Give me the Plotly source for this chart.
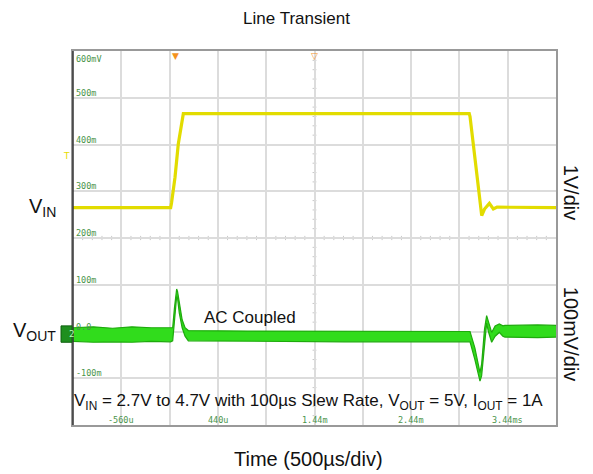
import plotly.graph_objects as go

# ---------------- data (time in µs, voltage in scope display mV) ----------------
t_vin = [-1060, -49, -40, -4, 30, 65, 82, 1000, 2000, 3042, 3050, 3084, 3136, 3160, 3171, 3200, 3250, 3291, 3330, 3940]
vin = [265, 265, 275, 330, 401, 451, 466, 466, 466, 466, 460, 401, 300, 255, 248, 262, 274, 262, 266, 265]

t_vout = [-1060, -850, -650, -450, -250, -50, -28, -10, 5, 13, 22, 40, 70, 100, 134, 750, 1750, 2750,
          3050, 3100, 3153, 3170, 3200, 3222, 3240, 3274, 3310, 3353, 3390, 3412, 3750, 3940]
vout_upper = [8, 10, 7, 10, 8, 9, 8, 50, 88, 91, 86, 60, 25, 8, 2, 1, 1, 1,
              0, -35, -88, -70, 5, 34, 20, -2, 12, 16, 12, 13, 14, 13]
vout_lower = [-21, -23, -22, -23, -21, -22, -20, 25, 65, 75, 72, 40, 8, -10, -20, -21, -22, -22,
              -22, -60, -106, -95, -35, 18, 0, -23, -10, -2, -10, -12, -13, -12]

y_tick_vals = [-100, 0, 100, 200, 300, 400, 500, 600]
y_tick_text = ["-100m", "0.0", "100m", "200m", "300m", "400m", "500m", "600mV"]
x_tick_vals = [-560, 440, 1440, 2440, 3440]
x_tick_text = ["-560u", "440u", "1.44m", "2.44m", "3.44ms"]

x_range = [-1060, 3940]
y_range = [-200, 600]
trigger_t = 0
trigger_level = 376

GRID = "#dcdcdc"
LBL = "#4a944a"
FONT = "Liberation Sans, Arial, sans-serif"

fig = go.Figure()

# VIN trace (yellow)
fig.add_trace(go.Scatter(x=t_vin, y=vin, mode="lines",
                         line=dict(color="#e2dc00", width=3.2), hoverinfo="skip"))
# VOUT band (green)
fig.add_trace(go.Scatter(x=t_vout, y=vout_upper, mode="lines",
                         line=dict(color="#1eaa0c", width=1.2), hoverinfo="skip"))
fig.add_trace(go.Scatter(x=t_vout, y=vout_lower, mode="lines", fill="tonexty",
                         fillcolor="#31dc1c",
                         line=dict(color="#1eaa0c", width=1.2), hoverinfo="skip"))

shapes = []
# minor ticks on centre lines
x_center = (x_range[0] + x_range[1]) / 2
y_center = (y_range[0] + y_range[1]) / 2
xdiv = (x_range[1] - x_range[0]) / 10
ydiv = (y_range[1] - y_range[0]) / 8
for i in range(1, 40):
    yy = y_range[0] + i * ydiv / 5
    shapes.append(dict(type="line", xref="x", yref="y", x0=x_center - xdiv * 0.04, x1=x_center + xdiv * 0.04,
                       y0=yy, y1=yy, line=dict(color="#c8c8c8", width=1), layer="below"))
for i in range(1, 50):
    xx = x_range[0] + i * xdiv / 5
    shapes.append(dict(type="line", xref="x", yref="y", x0=xx, x1=xx,
                       y0=y_center - ydiv * 0.045, y1=y_center + ydiv * 0.045,
                       line=dict(color="#c8c8c8", width=1), layer="below"))
# left frame line (dark)
shapes.append(dict(type="line", xref="paper", yref="paper", x0=0, x1=0, y0=0, y1=1,
                   line=dict(color="#333333", width=1.5)))
# channel 2 marker box
shapes.append(dict(type="rect", xref="paper", yref="y", x0=-0.0248, x1=-0.002, y0=-23, y1=12,
                   fillcolor="#1f8f1f", line=dict(color="#0f600f", width=1)))

annotations = []
for v, s in zip(y_tick_vals, y_tick_text):
    annotations.append(dict(x=0, xref="paper", y=v, yref="y", text=s, showarrow=False,
                            xanchor="left", yanchor="top" if v == y_range[1] else "bottom",
                            xshift=1, yshift=-1 if v == y_range[1] else -2,
                            font=dict(family="DejaVu Sans Mono", size=8.5, color=LBL)))
for v, s in zip(x_tick_vals, x_tick_text):
    annotations.append(dict(x=v, xref="x", y=0, yref="paper", text=s, showarrow=False,
                            xanchor="center", yanchor="bottom", yshift=-2,
                            font=dict(family="DejaVu Sans Mono", size=8.5, color=LBL)))

annotations += [
    dict(x=0, xref="paper", y=265, yref="y", text="V<sub>IN</sub>", showarrow=False,
         xanchor="right", xshift=-15, font=dict(family=FONT, size=20, color="#111")),
    dict(x=0, xref="paper", y=0, yref="y", text="V<sub>OUT</sub>", showarrow=False,
         xanchor="right", xshift=-15, font=dict(family=FONT, size=20, color="#111")),
    dict(x=1, xref="paper", y=297, yref="y", text="1V/div", showarrow=False, textangle=90,
         xanchor="center", xshift=15, font=dict(family=FONT, size=20, color="#111")),
    dict(x=1, xref="paper", y=-5, yref="y", text="100mV/div", showarrow=False, textangle=90,
         xanchor="center", xshift=15, font=dict(family=FONT, size=20, color="#111")),
    dict(x=772, xref="x", y=31, yref="y", text="AC Coupled", showarrow=False,
         font=dict(family=FONT, size=17, color="#111")),
    dict(x=0.4876, xref="paper", y=-150, yref="y",
         text="V<sub>IN</sub> = 2.7V to 4.7V with 100µs Slew Rate, V<sub>OUT</sub> = 5V, I<sub>OUT</sub> = 1A",
         showarrow=False, font=dict(family=FONT, size=17, color="#111")),
    dict(x=0.4886, xref="paper", y=-0.092, yref="paper", text="Time (500µs/div)", showarrow=False,
         yanchor="middle", font=dict(family=FONT, size=20, color="#111")),
    dict(x=trigger_t, xref="x", y=1, yref="paper", text="▼", showarrow=False, yanchor="top",
         yshift=2, font=dict(family="DejaVu Sans", size=9, color="#f5921e")),
    dict(x=x_center, xref="x", y=1, yref="paper", text="▽", showarrow=False, yanchor="top",
         yshift=2, font=dict(family="DejaVu Sans", size=9, color="#f5921e")),
    dict(x=0, xref="paper", y=trigger_level, yref="y", text="T", showarrow=False, xanchor="right",
         xshift=-1, font=dict(family="DejaVu Sans", size=9, color="#e6dc00")),
    dict(x=-0.0134, xref="paper", y=-5, yref="y", text="2", showarrow=False,
         font=dict(family="DejaVu Sans Mono", size=9, color="#b8ffb8")),
]

fig.update_layout(
    width=593, height=474,
    margin=dict(l=73, r=37, t=51, b=49),
    paper_bgcolor="white", plot_bgcolor="white",
    showlegend=False,
    title=dict(text="Line Transient", x=0.5, xref="container", xanchor="center",
               y=1 - 18 / 474, yref="container", yanchor="middle",
               font=dict(family=FONT, size=17, color="#111")),
    xaxis=dict(range=x_range, tick0=x_range[0], dtick=500, showticklabels=False, ticks="",
               showgrid=True, gridcolor=GRID, gridwidth=1.5, zeroline=False,
               showline=True, linecolor="#999", linewidth=1.5, mirror=True, fixedrange=True),
    yaxis=dict(range=y_range, tick0=y_range[0], dtick=100, showticklabels=False, ticks="",
               showgrid=True, gridcolor=GRID, gridwidth=1.5, zeroline=False,
               showline=True, linecolor="#999", linewidth=1.5, mirror=True, fixedrange=True),
    shapes=shapes,
    annotations=annotations,
)

fig.write_html("out.html", config={"displayModeBar": False},
               post_script="document.body.style.margin='0';document.body.style.overflow='hidden';"
                           "document.documentElement.style.overflow='hidden';")
